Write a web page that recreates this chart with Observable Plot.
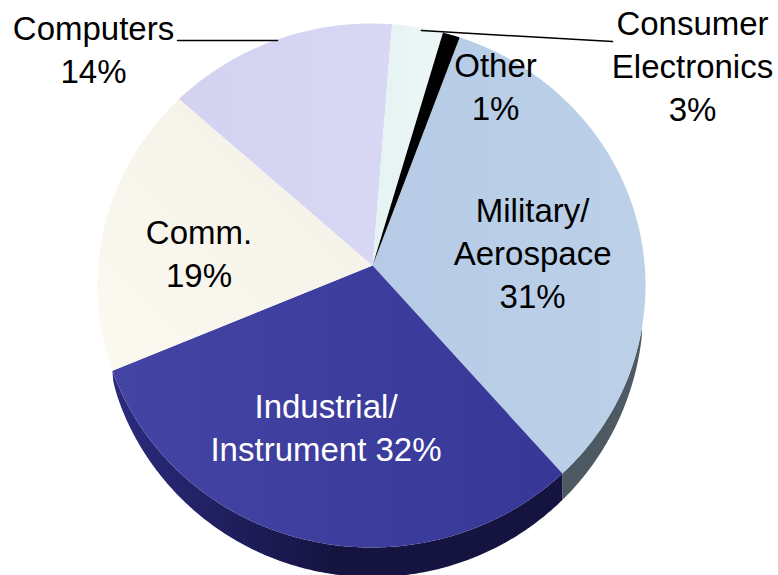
<!DOCTYPE html>
<html>
<head>
<meta charset="utf-8">
<style>
  html, body { margin: 0; padding: 0; background: #fff; }
  svg { display: block; }
</style>
<script src="https://cdn.jsdelivr.net/npm/d3@7"></script>
<script src="https://cdn.jsdelivr.net/npm/@observablehq/plot@0.6"></script>
</head>
<body>
<script>
// Market share by end-use segment, clockwise from the top of the pie.
const segments = ["Military/Aerospace", "Industrial/Instrument", "Comm.", "Computers", "Consumer Electronics", "Other"];
const shares = [31, 32, 19, 14, 3, 1];
const labelLines = [
  ["Military/", "Aerospace", "31%"],
  ["Industrial/", "Instrument 32%"],
  ["Comm.", "19%"],
  ["Computers", "14%"],
  ["Consumer", "Electronics", "3%"],
  ["Other", "1%"]
];
// Label centres, in pie units (rim radius = 1).
const labelX = [0.588, -0.166, -0.6296, -1.0146, 1.1715, 0.4526];
const labelY = [0.130, -0.534, 0.128, 0.908, 0.845, 0.765];
const labelInk = ["#000", "#fff", "#000", "#000", "#000", "#000"];
// Leader lines for the two labels set outside the pie.
const leaders = [
  {segment: "Computers", x: -0.708, y: 0.935},
  {segment: "Computers", x: -0.343, y: 0.935},
  {segment: "Consumer Electronics", x: 0.182, y: 0.973},
  {segment: "Consumer Electronics", x: 0.880, y: 0.931}
];
// Face and edge gradient stops.
const faceStops = [
  ["#b6cbe6", "#bcd0e8"],
  ["#4444a4", "#373798"],
  ["#f3f0e7", "#fcf9f1"],
  ["#d3d3f1", "#d8d8f5"],
  ["#e5f3f3", "#edf6f6"],
  ["#000000", "#000000"]
];
// Gradient direction of each face: [x1, y1, x2, y2].
const faceVectors = [
  [0, 0, 1, 0],
  [0, 0, 1, 0],
  [1, 0, 0, 1],
  [0, 0, 1, 0],
  [0, 0, 1, 0],
  [0, 0, 1, 0]
];
const edgeNavy = ["#2b2b7e", "#15133f", "#15133f"];
const edgeGrey = ["#4c5962", "#4e5b64"];

// Tilted-pie geometry: the apex sits above the ellipse centre, and the
// rim parameter is nudged by a small perspective term.
const startAngle = 18.7, tiltAmount = 3.6, tiltPhase = 11;
const apex = [0.004, 0.076];
const edgeDepth = 0.113, edgeStart = 99, edgeTaper = 0.3;
const rad = Math.PI / 180;
const rimAngle = (theta) => theta + startAngle + tiltAmount * (1 - Math.cos((theta + tiltPhase) * rad));
const rim = (t) => [Math.sin(t * rad), Math.cos(t * rad)];

// Cumulative sweep of each segment, in degrees.
const total = d3.sum(shares);
const sweeps = d3.cumsum([0, ...shares]).map((v) => v / total * 360);
const edgeEnd = rimAngle(sweeps[2]);

function arcPoints(t0, t1, f) {
  const n = Math.max(2, Math.ceil(Math.abs(t1 - t0) / 0.5));
  return d3.range(n + 1).map((i) => f(t0 + (t1 - t0) * i / n));
}
const depthAt = (t) => {
  const u = (t - (edgeStart + edgeEnd) / 2) / ((edgeEnd - edgeStart) / 2);
  return edgeDepth * Math.pow(Math.max(0, Math.cos(u * Math.PI / 2)), edgeTaper);
};
const lower = (t) => { const [x, y] = rim(t); return [x, y - depthAt(t)]; };

const faces = shares.map((_, i) => {
  const pts = arcPoints(rimAngle(sweeps[i]), rimAngle(sweeps[i + 1]), rim);
  return [apex, ...pts];
});
const edge = (t0, t1) => [...arcPoints(t0, t1, rim), ...arcPoints(t1, t0, lower)];

const toRows = (pts) => pts.map(([x, y]) => ({x, y}));

// Gradient definitions shared by the fills below.
function gradients() {
  const defs = d3.create("svg:g");
  const d = defs.append("defs");
  const add = (id, stops, [x1, y1, x2, y2] = [0, 0, 1, 0]) => {
    const g = d.append("linearGradient").attr("id", id).attr("x1", x1).attr("y1", y1).attr("x2", x2).attr("y2", y2);
    stops.forEach((c, i) => g.append("stop").attr("offset", i / (stops.length - 1)).attr("stop-color", c));
  };
  faceStops.forEach((s, i) => add("face" + i, s, faceVectors[i]));
  add("edgeNavy", edgeNavy);
  add("edgeGrey", edgeGrey);
  return defs.node();
}

const labels = segments.map((segment, i) => ({
  segment,
  text: labelLines[i].join("\n"),
  x: labelX[i],
  y: labelY[i],
  ink: labelInk[i]
}));
const textStyle = {
  x: "x", y: "y", text: "text",
  fontFamily: "Liberation Sans, Arial, sans-serif",
  fontSize: 33,
  lineHeight: 1.3,
  textAnchor: "middle",
  lineAnchor: "middle"
};

const chart = Plot.plot({
  width: 778,
  height: 575,
  margin: 0,
  style: {background: "#fff", overflow: "visible"},
  x: {domain: [-1, 1], range: [97, 645], axis: null},
  y: {domain: [-1, 1], range: [547, 23], axis: null},
  marks: [
    gradients,
    Plot.line(toRows(edge(edgeStart, rimAngle(sweeps[1]))), {x: "x", y: "y", fill: "url(#edgeGrey)"}),
    Plot.line(toRows(edge(rimAngle(sweeps[1]), edgeEnd)), {x: "x", y: "y", fill: "url(#edgeNavy)"}),
    ...faces.map((pts, i) => Plot.line(toRows(pts), {x: "x", y: "y", fill: `url(#face${i})`})),
    Plot.line(leaders, {x: "x", y: "y", z: "segment", stroke: "#000", strokeWidth: 1.5}),
    Plot.text(labels, {...textStyle, fill: "ink", filter: (d) => d.ink === "#000"}),
    Plot.text(labels, {...textStyle, fill: "#fff", filter: (d) => d.ink === "#fff"})
  ],
  color: {type: "identity"}
});
document.body.append(chart);
</script>
</body>
</html>
